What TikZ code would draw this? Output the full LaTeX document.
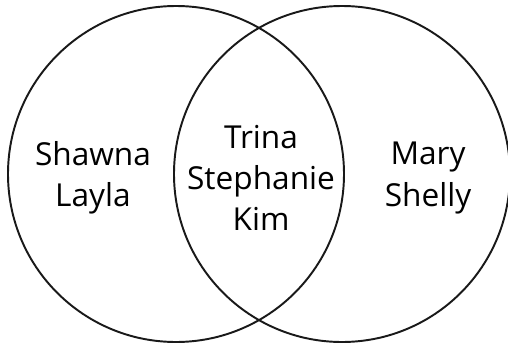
\documentclass[tikz,border=0pt]{standalone}
\usepackage{fontspec}
\setmainfont{Open Sans}
\usetikzlibrary{positioning}
\tikzset{
  ring/.style={line width=1.1pt,black!90},            % set outline
  names/.style={align=center,font=\fontsize{18}{23.5}\selectfont}, % member list
}
\begin{document}
\begin{tikzpicture}[x=0.02cm,y=0.02cm]
  \useasboundingbox (0,0) rectangle (508,343);
  % two overlapping sets
  \coordinate (cl) at (176,169);
  \coordinate (cr) at (342,169);
  \draw[ring] (cl) circle[radius=168];
  \draw[ring] (cr) circle[radius=168];
  \node[names] (onlyl) at (93,165) {Shawna\\Layla};
  \node[names] (both) at (261,165) {Trina\\Stephanie\\Kim};
  \node[names] (onlyr) at (428,165) {Mary\\Shelly};
\end{tikzpicture}
\end{document}
